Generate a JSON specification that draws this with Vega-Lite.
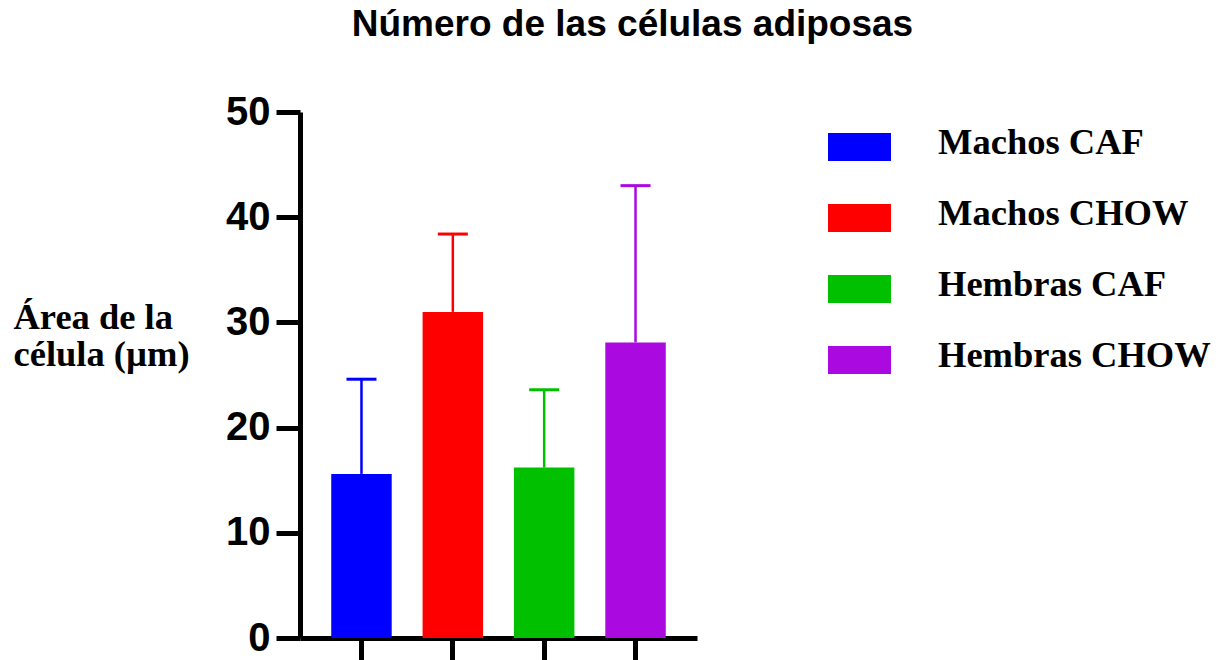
{
  "$schema": "https://vega.github.io/schema/vega-lite/v6.json",
  "autosize": {"type": "none"},
  "padding": {"left": 300, "top": 112, "right": 524, "bottom": 22},
  "width": 397,
  "height": 526,
  "background": "white",
  "title": {
    "text": "Número de las células adiposas",
    "font": "Liberation Sans",
    "fontSize": 37,
    "fontWeight": "bold",
    "color": "black",
    "anchor": "middle",
    "frame": "group",
    "dx": 134,
    "dy": -19,
    "offset": 0,
    "baseline": "alphabetic"
  },
  "data": {
    "values": [
      {"grupo": "Machos CAF", "media": 15.6, "superior": 24.6},
      {"grupo": "Machos CHOW", "media": 31.0, "superior": 38.4},
      {"grupo": "Hembras CAF", "media": 16.2, "superior": 23.6},
      {"grupo": "Hembras CHOW", "media": 28.1, "superior": 43.0}
    ]
  },
  "config": {
    "view": {"stroke": null},
    "axis": {"grid": false}
  },
  "encoding": {
    "x": {
      "field": "grupo",
      "type": "nominal",
      "sort": ["Machos CAF", "Machos CHOW", "Hembras CAF", "Hembras CHOW"],
      "scale": {"paddingInner": 0.338, "paddingOuter": 0.342},
      "axis": {
        "title": null,
        "labels": false,
        "domainColor": "black",
        "domainWidth": 5,
        "tickColor": "black",
        "tickWidth": 5,
        "tickSize": 22
      }
    }
  },
  "layer": [
    {
      "mark": {"type": "bar"},
      "encoding": {
        "y": {
          "field": "media",
          "type": "quantitative",
          "scale": {"domain": [0, 50], "nice": false},
          "axis": {
            "values": [0, 10, 20, 30, 40, 50],
            "title": ["Área de la", "célula (µm)"],
            "titleFont": "Liberation Serif",
            "titleFontSize": 36.5,
            "titleFontWeight": "bold",
            "titleColor": "black",
            "titleAngle": 0,
            "titleAlign": "left",
            "titleBaseline": "alphabetic",
            "titleX": -287,
            "titleY": 216,
            "titleLineHeight": 37,
            "labelFont": "Liberation Sans",
            "labelFontSize": 40,
            "labelFontWeight": "bold",
            "labelColor": "black",
            "labelPadding": 6,
            "domainColor": "black",
            "domainWidth": 5,
            "tickColor": "black",
            "tickWidth": 5,
            "tickSize": 24
          }
        },
        "color": {
          "field": "grupo",
          "type": "nominal",
          "scale": {
            "domain": ["Machos CAF", "Machos CHOW", "Hembras CAF", "Hembras CHOW"],
            "range": ["#0000FF", "#FF0000", "#00C000", "#AA0AE0"]
          },
          "legend": {
            "title": null,
            "orient": "none",
            "legendX": 528,
            "legendY": -1,
            "padding": 0,
            "symbolType": "M-1,-0.30H1V0.587H-1Z",
            "symbolSize": 3969,
            "symbolStrokeWidth": 0,
            "symbolOpacity": 1,
            "labelFont": "Liberation Serif",
            "labelFontSize": 36.5,
            "labelFontWeight": "bold",
            "labelColor": "black",
            "labelOffset": 47,
            "labelLimit": 400,
            "labelBaseline": "middle",
            "rowPadding": 21
          }
        }
      }
    },
    {
      "mark": {"type": "rule", "strokeWidth": 2.5},
      "encoding": {
        "y": {"field": "media", "type": "quantitative"},
        "y2": {"field": "superior"},
        "stroke": {
          "field": "grupo",
          "type": "nominal",
          "scale": {
            "domain": ["Machos CAF", "Machos CHOW", "Hembras CAF", "Hembras CHOW"],
            "range": ["#0000FF", "#FF0000", "#00C000", "#AA0AE0"]
          },
          "legend": null
        }
      }
    },
    {
      "mark": {"type": "tick", "size": 30, "thickness": 3, "orient": "horizontal", "opacity": 1},
      "encoding": {
        "y": {"field": "superior", "type": "quantitative"},
        "fill": {
          "field": "grupo",
          "type": "nominal",
          "scale": {
            "domain": ["Machos CAF", "Machos CHOW", "Hembras CAF", "Hembras CHOW"],
            "range": ["#0000FF", "#FF0000", "#00C000", "#AA0AE0"]
          },
          "legend": null
        }
      }
    }
  ]
}
